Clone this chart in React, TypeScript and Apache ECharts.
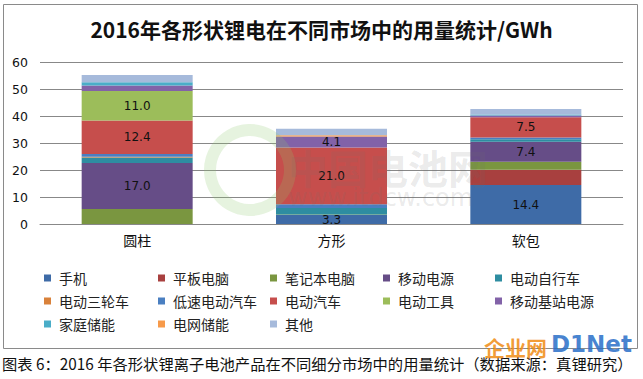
import React, { useEffect, useRef } from "react";
import * as echarts from "echarts";

const categories = ["圆柱", "方形", "软包"];
const seriesNames = [
  "手机", "平板电脑", "笔记本电脑", "移动电源", "电动自行车",
  "电动三轮车", "低速电动汽车", "电动汽车", "电动工具", "移动基站电源",
  "家庭储能", "电网储能", "其他",
];
const s手机 = [0, 3.3, 14.4];
const s平板电脑 = [0, 0, 5.7];
const s笔记本电脑 = [5.6, 0.2, 3.0];
const s移动电源 = [17.0, 0, 7.4];
const s电动自行车 = [2.0, 2.4, 0.9];
const s电动三轮车 = [0.3, 0, 0];
const s低速电动汽车 = [1.0, 1.4, 0.6];
const s电动汽车 = [12.4, 21.0, 7.5];
const s电动工具 = [11.0, 0, 0];
const s移动基站电源 = [2.0, 4.1, 0.7];
const s家庭储能 = [1.2, 0, 0.4];
const s电网储能 = [0, 0.5, 0];
const s其他 = [2.7, 2.4, 2.0];
const seriesValues = [
  s手机, s平板电脑, s笔记本电脑, s移动电源, s电动自行车, s电动三轮车,
  s低速电动汽车, s电动汽车, s电动工具, s移动基站电源, s家庭储能, s电网储能, s其他,
];
// which segments carry a value label, per category
const labelled: Record<string, string[]> = {
  圆柱: ["移动电源", "电动汽车", "电动工具"],
  方形: ["手机", "电动汽车", "移动基站电源"],
  软包: ["手机", "移动电源", "电动汽车"],
};
const colors = [
  "#3E6BA7", "#A8403F", "#7A9640", "#664D87", "#2E8DA1",
  "#D9813A", "#4A7FC1", "#C64E4C", "#9CBD5A", "#8262A8",
  "#4AADC8", "#F79A4A", "#A6BADB",
];
const yTicks = [0, 10, 20, 30, 40, 50, 60];
const legendColumnsX = [44, 158, 270, 383, 495];
const legendRowsY = [271, 294, 317];

export default function App() {
  const ref = useRef<HTMLDivElement>(null);
  useEffect(() => {
    const chart = echarts.init(ref.current!, null, { renderer: "svg" });
    const cjk = "'Noto Sans CJK SC', sans-serif";
    chart.setOption({
      animation: false,
      backgroundColor: "#ffffff",
      color: colors,
      title: {
        text: "2016年各形状锂电在不同市场中的用量统计/GWh",
        left: "center",
        top: 13,
        textStyle: { fontFamily: cjk, fontSize: 21, fontWeight: "bold", color: "#111" },
      },
      legend: seriesNames.map((name, i) => ({
        data: [name],
        left: legendColumnsX[i % 5],
        top: legendRowsY[Math.floor(i / 5)],
        itemWidth: 7,
        itemHeight: 7,
        icon: "rect",
        padding: 0,
        textStyle: {
          fontFamily: cjk,
          fontSize: 14,
          color: "#222",
          padding: [0, 0, 0, 3],
        },
      })),
      grid: { left: 40, right: 20, top: 62, bottom: 155 },
      xAxis: {
        type: "category",
        data: categories,
        axisLine: { lineStyle: { color: "#888" } },
        axisTick: { show: false },
        axisLabel: { fontFamily: cjk, fontSize: 14, color: "#111", margin: 9 },
      },
      yAxis: {
        type: "value",
        min: 0,
        max: yTicks[yTicks.length - 1],
        interval: 10,
        axisLine: { show: false },
        axisTick: { show: false },
        splitLine: { lineStyle: { color: "#888" } },
        axisLabel: { fontFamily: "'DejaVu Sans', sans-serif", fontSize: 12.5, color: "#111", margin: 12 },
      },
      series: seriesNames.map((name, si) => ({
        name,
        type: "bar",
        stack: "total",
        barWidth: 111,
        data: seriesValues[si].map((v, ci) => ({
          value: v,
          label: {
            show: labelled[categories[ci]].includes(name),
            position: "inside",
            formatter: (p: any) => Number(p.value).toFixed(1),
            fontFamily: "'DejaVu Sans', sans-serif",
            fontSize: 12,
            color: "#111",
          },
        })),
      })),
      graphic: [
        {
          type: "rect",
          shape: { x: 3.5, y: 4.5, width: 634, height: 344 },
          style: { fill: "none", stroke: "#8a8a8a", lineWidth: 1 },
          z: -1,
        },
        {
          type: "circle",
          shape: { cx: 250, cy: 170, r: 40 },
          style: { fill: "none", stroke: "rgba(140,200,110,0.22)", lineWidth: 12 },
          z: 100,
        },
        {
          type: "text",
          x: 288,
          y: 147,
          style: {
            text: "中国电池网",
            fontFamily: cjk,
            fontSize: 40,
            fontWeight: "bold",
            fill: "rgba(110,110,110,0.15)",
          },
          z: 100,
        },
        {
          type: "text",
          x: 288,
          y: 186,
          style: {
            text: "www.itdcw.com",
            fontFamily: "'DejaVu Sans', sans-serif",
            fontSize: 24,
            fill: "rgba(110,110,110,0.15)",
          },
          z: 100,
        },
        {
          type: "text",
          x: 2,
          y: 355,
          style: {
            text: "图表 6：2016 年各形状锂离子电池产品在不同细分市场中的用量统计（数据来源：真锂研究）",
            fontFamily: cjk,
            fontSize: 15.3,
            fill: "#111",
          },
        },
        {
          type: "text",
          x: 484,
          y: 336,
          style: {
            text: "企业网",
            fontFamily: cjk,
            fontSize: 21,
            fontWeight: "bold",
            fill: "rgba(240,140,20,0.85)",
          },
          z: 100,
        },
        {
          type: "text",
          x: 551,
          y: 332,
          style: {
            text: "D1Net",
            fontFamily: "'DejaVu Sans', sans-serif",
            fontSize: 23,
            fontWeight: "bold",
            fill: "rgba(40,110,200,0.85)",
          },
          z: 100,
        },
      ],
    });
    return () => chart.dispose();
  }, []);
  return (
    <div
      ref={ref}
      style={{ position: "fixed", left: 0, top: 0, width: 643, height: 379 }}
    />
  );
}
